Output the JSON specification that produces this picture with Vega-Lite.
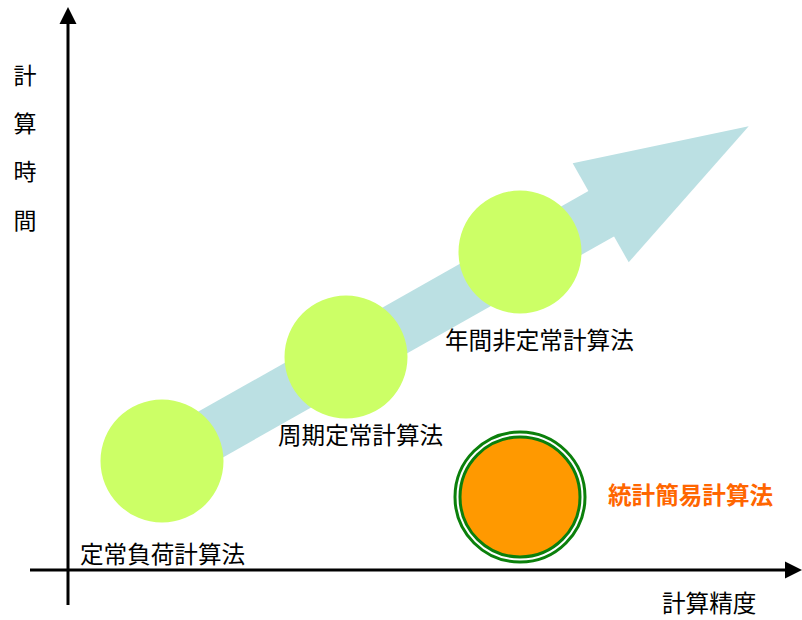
{
  "$schema": "https://vega.github.io/schema/vega-lite/v6.json",
  "width": 802,
  "height": 620,
  "padding": 0,
  "autosize": {"type": "fit", "contains": "padding"},
  "config": {"view": {"stroke": null}, "font": "Noto Sans CJK JP"},
  "datasets": {
    "axes": [
      {"name": "y", "x": 68, "y": 605, "x2": 68, "y2": 22},
      {"name": "x", "x": 30, "y": 570, "x2": 788, "y2": 570}
    ],
    "shaft": [{"x": 162, "y": 462, "x2": 622, "y2": 202}],
    "head": [{"x": 650, "y": 184}],
    "yhead": [{"x": 68, "y": 18}],
    "xhead": [{"x": 790, "y": 570}],
    "methods": [
      {"name": "定常負荷計算法", "x": 162, "y": 461},
      {"name": "周期定常計算法", "x": 346, "y": 357},
      {"name": "年間非定常計算法", "x": 520, "y": 252}
    ],
    "simple": [{"name": "統計簡易計算法", "x": 520, "y": 497}],
    "labels": [
      {"text": "定常負荷計算法", "x": 80, "y": 556},
      {"text": "周期定常計算法", "x": 278, "y": 437},
      {"text": "年間非定常計算法", "x": 445, "y": 342},
      {"text": "計算精度", "x": 662, "y": 605}
    ],
    "ylabel": [
      {"text": "計", "x": 25, "y": 77},
      {"text": "算", "x": 25, "y": 125},
      {"text": "時", "x": 25, "y": 173},
      {"text": "間", "x": 25, "y": 222}
    ]
  },
  "layer": [
    {
      "data": {"name": "shaft"},
      "mark": {"type": "rule", "color": "#BBE0E3", "strokeWidth": 52, "strokeCap": "butt"},
      "encoding": {
        "x": {"field": "x", "type": "quantitative", "scale": {"domain": [0, 802]}, "axis": null},
        "y": {"field": "y", "type": "quantitative", "scale": {"domain": [0, 620], "reverse": true}, "axis": null},
        "x2": {"field": "x2"},
        "y2": {"field": "y2"}
      }
    },
    {
      "data": {"name": "head"},
      "mark": {"type": "point", "filled": true, "color": "#BBE0E3", "opacity": 1, "size": 40000, "shape": "M0.987,-0.577 L-0.773,-0.207 L-0.213,0.783 Z"},
      "encoding": {
        "x": {"field": "x", "type": "quantitative", "scale": {"domain": [0, 802]}, "axis": null},
        "y": {"field": "y", "type": "quantitative", "scale": {"domain": [0, 620], "reverse": true}, "axis": null}
      }
    },
    {
      "data": {"name": "methods"},
      "mark": {"type": "point", "shape": "circle", "filled": true, "color": "#CCFF66", "opacity": 1, "size": 15129},
      "encoding": {
        "x": {"field": "x", "type": "quantitative", "scale": {"domain": [0, 802]}, "axis": null},
        "y": {"field": "y", "type": "quantitative", "scale": {"domain": [0, 620], "reverse": true}, "axis": null}
      }
    },
    {
      "data": {"name": "simple"},
      "mark": {"type": "point", "shape": "circle", "filled": false, "fill": null, "stroke": "#0B800B", "strokeWidth": 3, "opacity": 1, "size": 16900},
      "encoding": {
        "x": {"field": "x", "type": "quantitative", "scale": {"domain": [0, 802]}, "axis": null},
        "y": {"field": "y", "type": "quantitative", "scale": {"domain": [0, 620], "reverse": true}, "axis": null}
      }
    },
    {
      "data": {"name": "simple"},
      "mark": {"type": "point", "shape": "circle", "filled": true, "fill": "#FF9900", "stroke": "#0B800B", "strokeWidth": 3, "opacity": 1, "size": 14400},
      "encoding": {
        "x": {"field": "x", "type": "quantitative", "scale": {"domain": [0, 802]}, "axis": null},
        "y": {"field": "y", "type": "quantitative", "scale": {"domain": [0, 620], "reverse": true}, "axis": null}
      }
    },
    {
      "data": {"name": "axes"},
      "mark": {"type": "rule", "color": "#000000", "strokeWidth": 3},
      "encoding": {
        "x": {"field": "x", "type": "quantitative", "scale": {"domain": [0, 802]}, "axis": null},
        "y": {"field": "y", "type": "quantitative", "scale": {"domain": [0, 620], "reverse": true}, "axis": null},
        "x2": {"field": "x2"},
        "y2": {"field": "y2"}
      }
    },
    {
      "data": {"name": "yhead"},
      "mark": {"type": "point", "filled": true, "color": "#000000", "opacity": 1, "size": 400, "shape": "M0,-1.1 L0.85,0.6 L-0.85,0.6 Z"},
      "encoding": {
        "x": {"field": "x", "type": "quantitative", "scale": {"domain": [0, 802]}, "axis": null},
        "y": {"field": "y", "type": "quantitative", "scale": {"domain": [0, 620], "reverse": true}, "axis": null}
      }
    },
    {
      "data": {"name": "xhead"},
      "mark": {"type": "point", "filled": true, "color": "#000000", "opacity": 1, "size": 400, "shape": "M1.2,0 L-0.5,-0.85 L-0.5,0.85 Z"},
      "encoding": {
        "x": {"field": "x", "type": "quantitative", "scale": {"domain": [0, 802]}, "axis": null},
        "y": {"field": "y", "type": "quantitative", "scale": {"domain": [0, 620], "reverse": true}, "axis": null}
      }
    },
    {
      "data": {"name": "labels"},
      "mark": {"type": "text", "align": "left", "baseline": "middle", "fontSize": 23.6, "color": "#000000"},
      "encoding": {
        "x": {"field": "x", "type": "quantitative", "scale": {"domain": [0, 802]}, "axis": null},
        "y": {"field": "y", "type": "quantitative", "scale": {"domain": [0, 620], "reverse": true}, "axis": null},
        "text": {"field": "text"}
      }
    },
    {
      "data": {"name": "simple"},
      "mark": {"type": "text", "align": "left", "baseline": "middle", "fontSize": 23.6, "fontWeight": "bold", "color": "#FF6600", "dx": 88},
      "encoding": {
        "x": {"field": "x", "type": "quantitative", "scale": {"domain": [0, 802]}, "axis": null},
        "y": {"field": "y", "type": "quantitative", "scale": {"domain": [0, 620], "reverse": true}, "axis": null},
        "text": {"field": "name"}
      }
    },
    {
      "data": {"name": "ylabel"},
      "mark": {"type": "text", "align": "center", "baseline": "middle", "fontSize": 23, "color": "#000000"},
      "encoding": {
        "x": {"field": "x", "type": "quantitative", "scale": {"domain": [0, 802]}, "axis": null},
        "y": {"field": "y", "type": "quantitative", "scale": {"domain": [0, 620], "reverse": true}, "axis": null},
        "text": {"field": "text"}
      }
    }
  ]
}
